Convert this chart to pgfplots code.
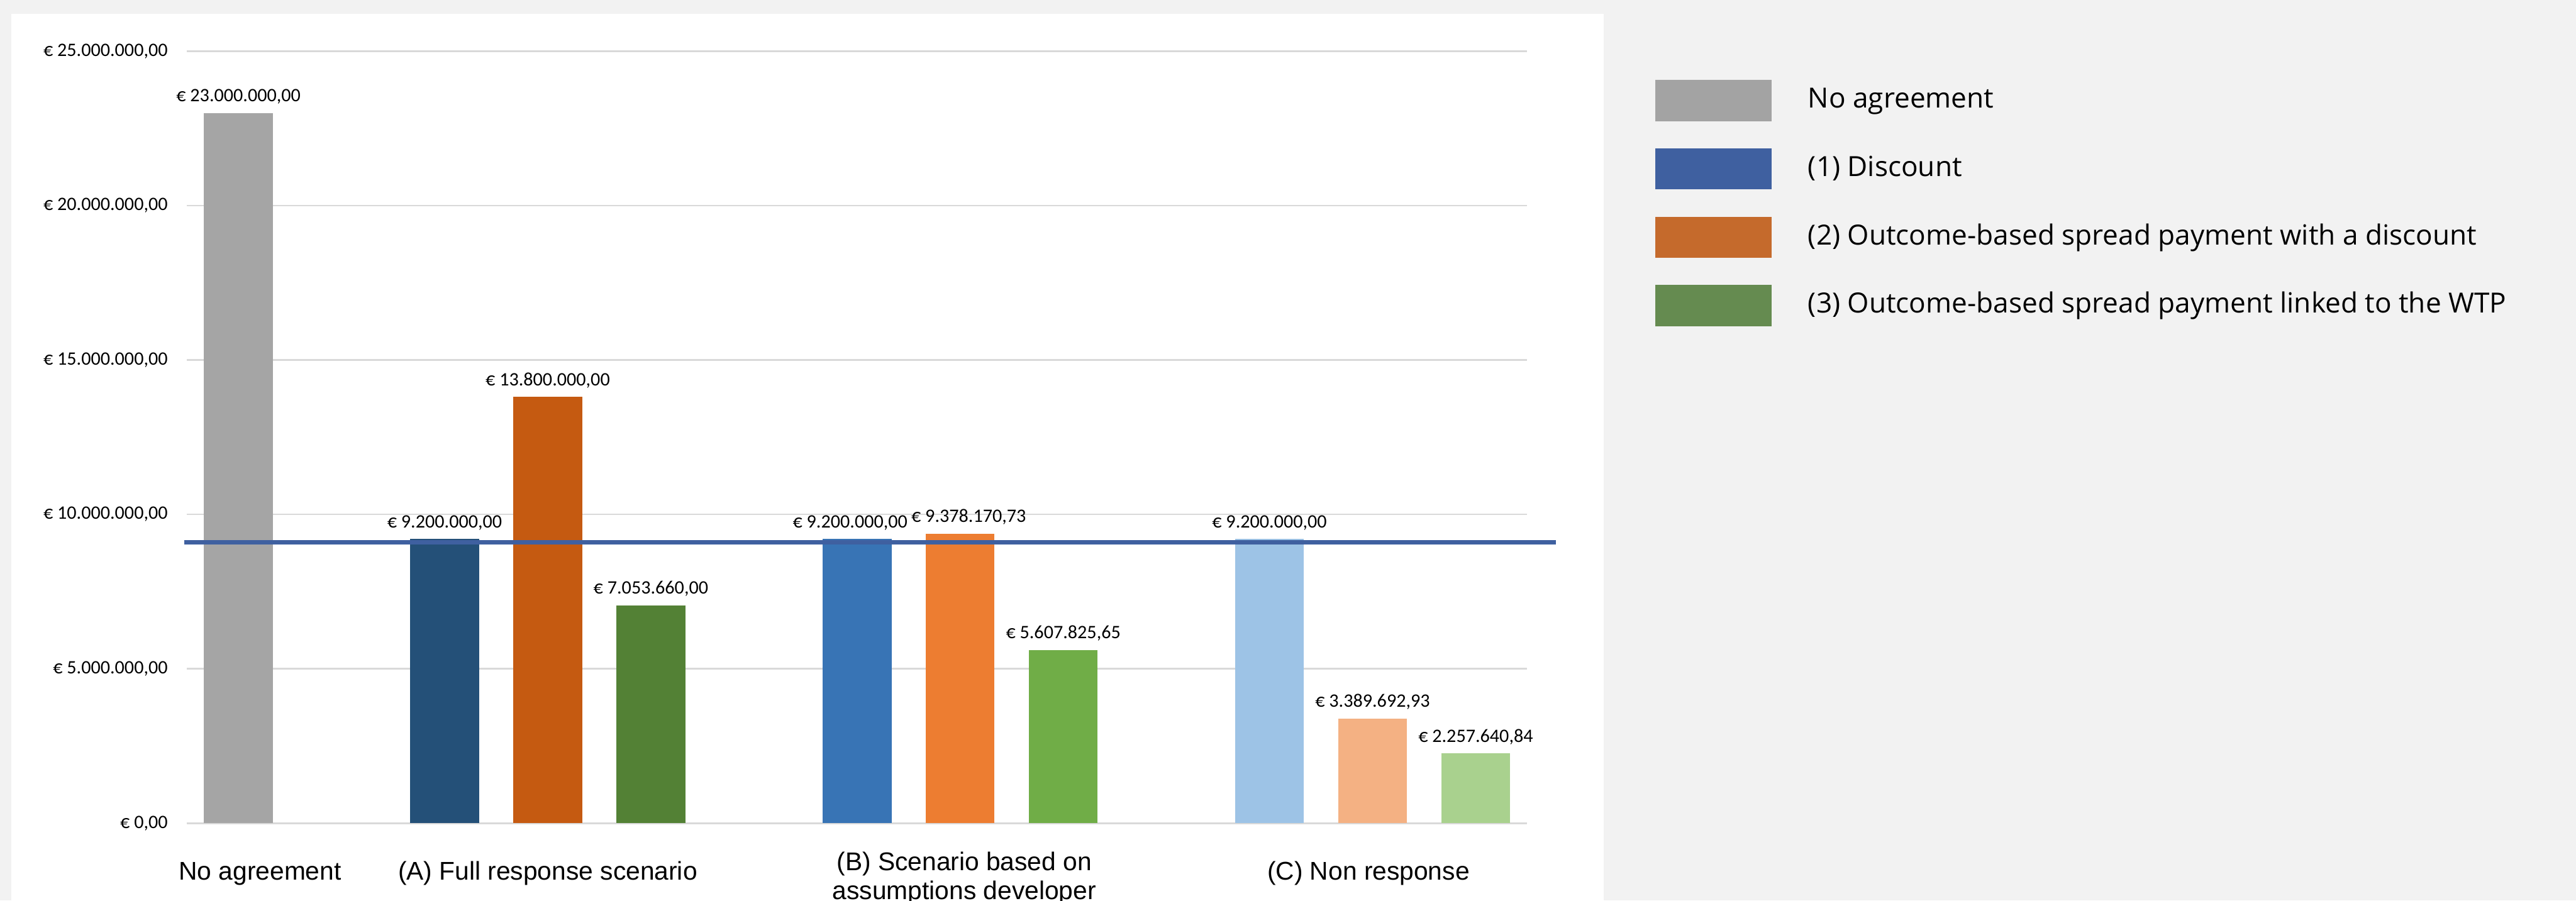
\documentclass[border=0pt]{standalone}
\usepackage{fontspec}
\setmainfont{Carlito}
\newfontfamily\arialf{Liberation Sans}
\newfontfamily\opensans{Open Sans}
\usepackage{pgfplots}
\pgfplotsset{compat=1.18}
\definecolor{bgGray}{HTML}{F2F2F2}
\definecolor{gridGray}{HTML}{D9D9D9}
\definecolor{cGray}{HTML}{A5A5A5}
\definecolor{aBlue}{HTML}{245078}
\definecolor{aOrange}{HTML}{C55A11}
\definecolor{aGreen}{HTML}{538135}
\definecolor{bBlue}{HTML}{3874B5}
\definecolor{bOrange}{HTML}{ED7D31}
\definecolor{bGreen}{HTML}{70AD47}
\definecolor{cBlue}{HTML}{9DC3E6}
\definecolor{cOrange}{HTML}{F4B183}
\definecolor{cGreen}{HTML}{A9D18E}
\definecolor{lineBlue}{HTML}{3F60A0}
\definecolor{legGray}{HTML}{A3A3A3}
\definecolor{legBlue}{HTML}{3F60A0}
\definecolor{legOrange}{HTML}{C56A2C}
\definecolor{legGreen}{HTML}{658B50}
\newcommand{\valfont}{\fontsize{7.1}{8.5}\selectfont}
\begin{document}
\begin{tikzpicture}
\fill[bgGray] (0,0) rectangle (964.8pt,337.4pt);
\fill[white] (4.2pt,0) rectangle (600.6pt,332.2pt);
\begin{axis}[
  at={(70pt,29pt)}, anchor=south west,
  scale only axis, width=502pt, height=289.26pt,
  xmin=-0.5, xmax=12.5, ymin=0, ymax=25000000,
  ybar, bar width=25.8pt, bar shift=0pt,
  axis line style={draw=none},
  major tick length=0pt,
  ymajorgrids, grid style={gridGray, line width=0.6pt},
  ytick={0,5000000,10000000,15000000,20000000,25000000},
  yticklabels={{€ 0,00},{€ 5.000.000,00},{€ 10.000.000,00},{€ 15.000.000,00},{€ 20.000.000,00},{€ 25.000.000,00}},
  scaled y ticks=false,
  yticklabel style={font=\valfont, anchor=east, inner sep=0pt, xshift=-7pt},
  xtick={0.21,3,10.96},
  xticklabels={{No agreement},{(A) Full response scenario},{(C) Non response}},
  xticklabel style={font=\arialf\fontsize{9.6}{11}\selectfont, anchor=base, inner sep=0pt, yshift=-21.2pt, align=center},
  extra x ticks={7.04},
  extra x tick labels={{(B) Scenario based on\\assumptions developer}},
  extra x tick style={grid=none, xticklabel style={yshift=-7.4pt}},
  clip=false,
  every node near coord/.append style={font=\valfont, inner sep=0pt, yshift=3.2pt, text=black},
  legend style={at={(1.0956,0.9625)}, anchor=north west, draw=none, fill=none,
    inner sep=0pt, outer sep=0pt, row sep=10.2pt, column sep=13.6pt,
    font=\opensans\fontsize{10.4}{12}\selectfont,
    nodes={inner sep=0pt, anchor=base west}},
  legend image code/.code={\fill[#1] (0pt,-4.7pt) rectangle (43.2pt,10.3pt);},
]
\addplot[fill=cGray, draw=none, forget plot, nodes near coords={€ 23.000.000,00}] coordinates {(0,23000000)};
\addplot[fill=aBlue, draw=none, forget plot, nodes near coords={€ 9.200.000,00}] coordinates {(2,9200000)};
\addplot[fill=aOrange, draw=none, forget plot, nodes near coords={€ 13.800.000,00}] coordinates {(3,13800000)};
\addplot[fill=aGreen, draw=none, forget plot, nodes near coords={€ 7.053.660,00}] coordinates {(4,7053660)};
\addplot[fill=bBlue, draw=none, forget plot, nodes near coords={€ 9.200.000,00}, every node near coord/.append style={xshift=-2.6pt}] coordinates {(6,9200000)};
\addplot[fill=bOrange, draw=none, forget plot, nodes near coords={€ 9.378.170,73}, every node near coord/.append style={xshift=3.2pt}] coordinates {(7,9378170.73)};
\addplot[fill=bGreen, draw=none, forget plot, nodes near coords={€ 5.607.825,65}] coordinates {(8,5607825.65)};
\addplot[fill=cBlue, draw=none, forget plot, nodes near coords={€ 9.200.000,00}] coordinates {(10,9200000)};
\addplot[fill=cOrange, draw=none, forget plot, nodes near coords={€ 3.389.692,93}] coordinates {(11,3389692.93)};
\addplot[fill=cGreen, draw=none, forget plot, nodes near coords={€ 2.257.640,84}] coordinates {(12,2257640.84)};
\addplot[lineBlue, line width=1.6pt, sharp plot, no marks, forget plot] coordinates {(-0.528,9100000) (12.78,9100000)};
\addlegendimage{legGray}
\addlegendentry{No agreement}
\addlegendimage{legBlue}
\addlegendentry{(1) Discount}
\addlegendimage{legOrange}
\addlegendentry{(2) Outcome-based spread payment with a discount}
\addlegendimage{legGreen}
\addlegendentry{(3) Outcome-based spread payment linked to the WTP}
\end{axis}
\pgfresetboundingbox
\path[use as bounding box] (0,0) rectangle (964.8pt,337.4pt);
\end{tikzpicture}
\end{document}
